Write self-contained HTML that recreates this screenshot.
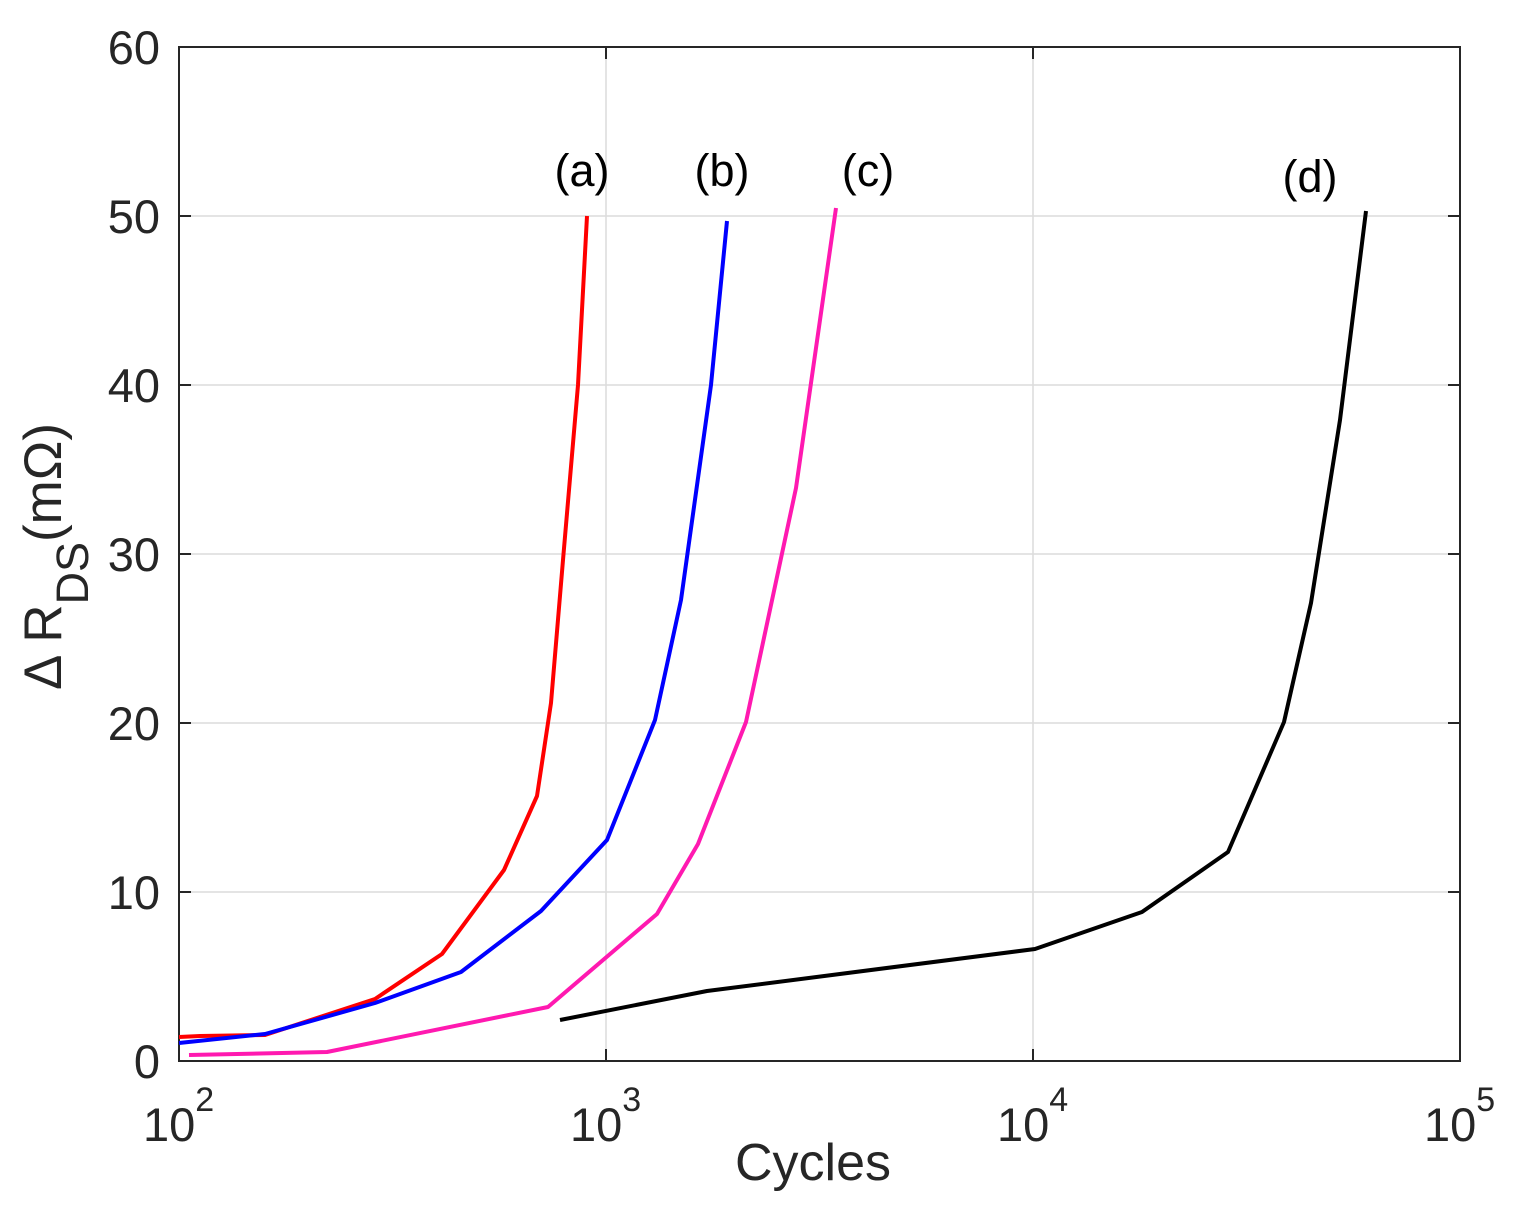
<!DOCTYPE html>
<html><head><style>body{margin:0;background:#fff}svg{display:block}</style></head>
<body>
<svg width="1540" height="1211" viewBox="0 0 1540 1211" xmlns="http://www.w3.org/2000/svg" font-family="Liberation Sans, sans-serif" fill="#262626">
<rect width="1540" height="1211" fill="#fff"/>
<g stroke="#dcdcdc" stroke-width="1.5">
<line x1="606" y1="47" x2="606" y2="1061"/><line x1="1033" y1="47" x2="1033" y2="1061"/>
<line x1="179" y1="216" x2="1460" y2="216"/><line x1="179" y1="385" x2="1460" y2="385"/>
<line x1="179" y1="554" x2="1460" y2="554"/><line x1="179" y1="723" x2="1460" y2="723"/>
<line x1="179" y1="892" x2="1460" y2="892"/>
</g>
<g stroke="#262626" stroke-width="2" fill="none">
<rect x="179" y="47" width="1281" height="1014"/>
<path d="M179 216h12M179 385h12M179 554h12M179 723h12M179 892h12M1460 216h-12M1460 385h-12M1460 554h-12M1460 723h-12M1460 892h-12M606 1061v-12M1033 1061v-12M606 47v12M1033 47v12"/>
</g>
<g fill="none" stroke-width="4" stroke-linejoin="round">
<polyline stroke="#ff0000" points="179,1037 200,1036 265,1035 375,999 442,954 504,870 537,796 551,703 563,560 578,385 587,216"/>
<polyline stroke="#0000ff" points="179,1043 265,1034 375,1003 461,972 541,911 607,840 655,720 681,600 711,385 727,221"/>
<polyline stroke="#ff19b0" points="189,1055 327,1052 548,1007 657,914 698,844 746,722 796,488 836,208"/>
<polyline stroke="#000000" points="560,1020 707,991 1035,949 1142,912 1228,852 1284,722 1311,603 1340,420 1366,211"/>
</g>
<g font-size="47" text-anchor="end">
<text x="160" y="1078">0</text><text x="160" y="909">10</text><text x="160" y="740">20</text>
<text x="160" y="571">30</text><text x="160" y="402">40</text><text x="160" y="233">50</text><text x="160" y="64">60</text>
</g>
<g font-size="47">
<text x="143" y="1141">10<tspan font-size="34" dy="-30">2</tspan></text>
<text x="570" y="1141">10<tspan font-size="34" dy="-30">3</tspan></text>
<text x="997" y="1141">10<tspan font-size="34" dy="-30">4</tspan></text>
<text x="1424" y="1141">10<tspan font-size="34" dy="-30">5</tspan></text>
<text x="813" y="1180" text-anchor="middle" font-size="52">Cycles</text>
</g>
<g font-size="45" fill="#000" text-anchor="middle">
<text x="582" y="186">(a)</text><text x="722" y="186">(b)</text><text x="868" y="186">(c)</text><text x="1310" y="192">(d)</text>
</g>
<text transform="translate(61,690) rotate(-90)" font-size="53">Δ R<tspan font-size="45" dy="27">DS</tspan><tspan dy="-27">(mΩ)</tspan></text>
</svg>
</body></html>
